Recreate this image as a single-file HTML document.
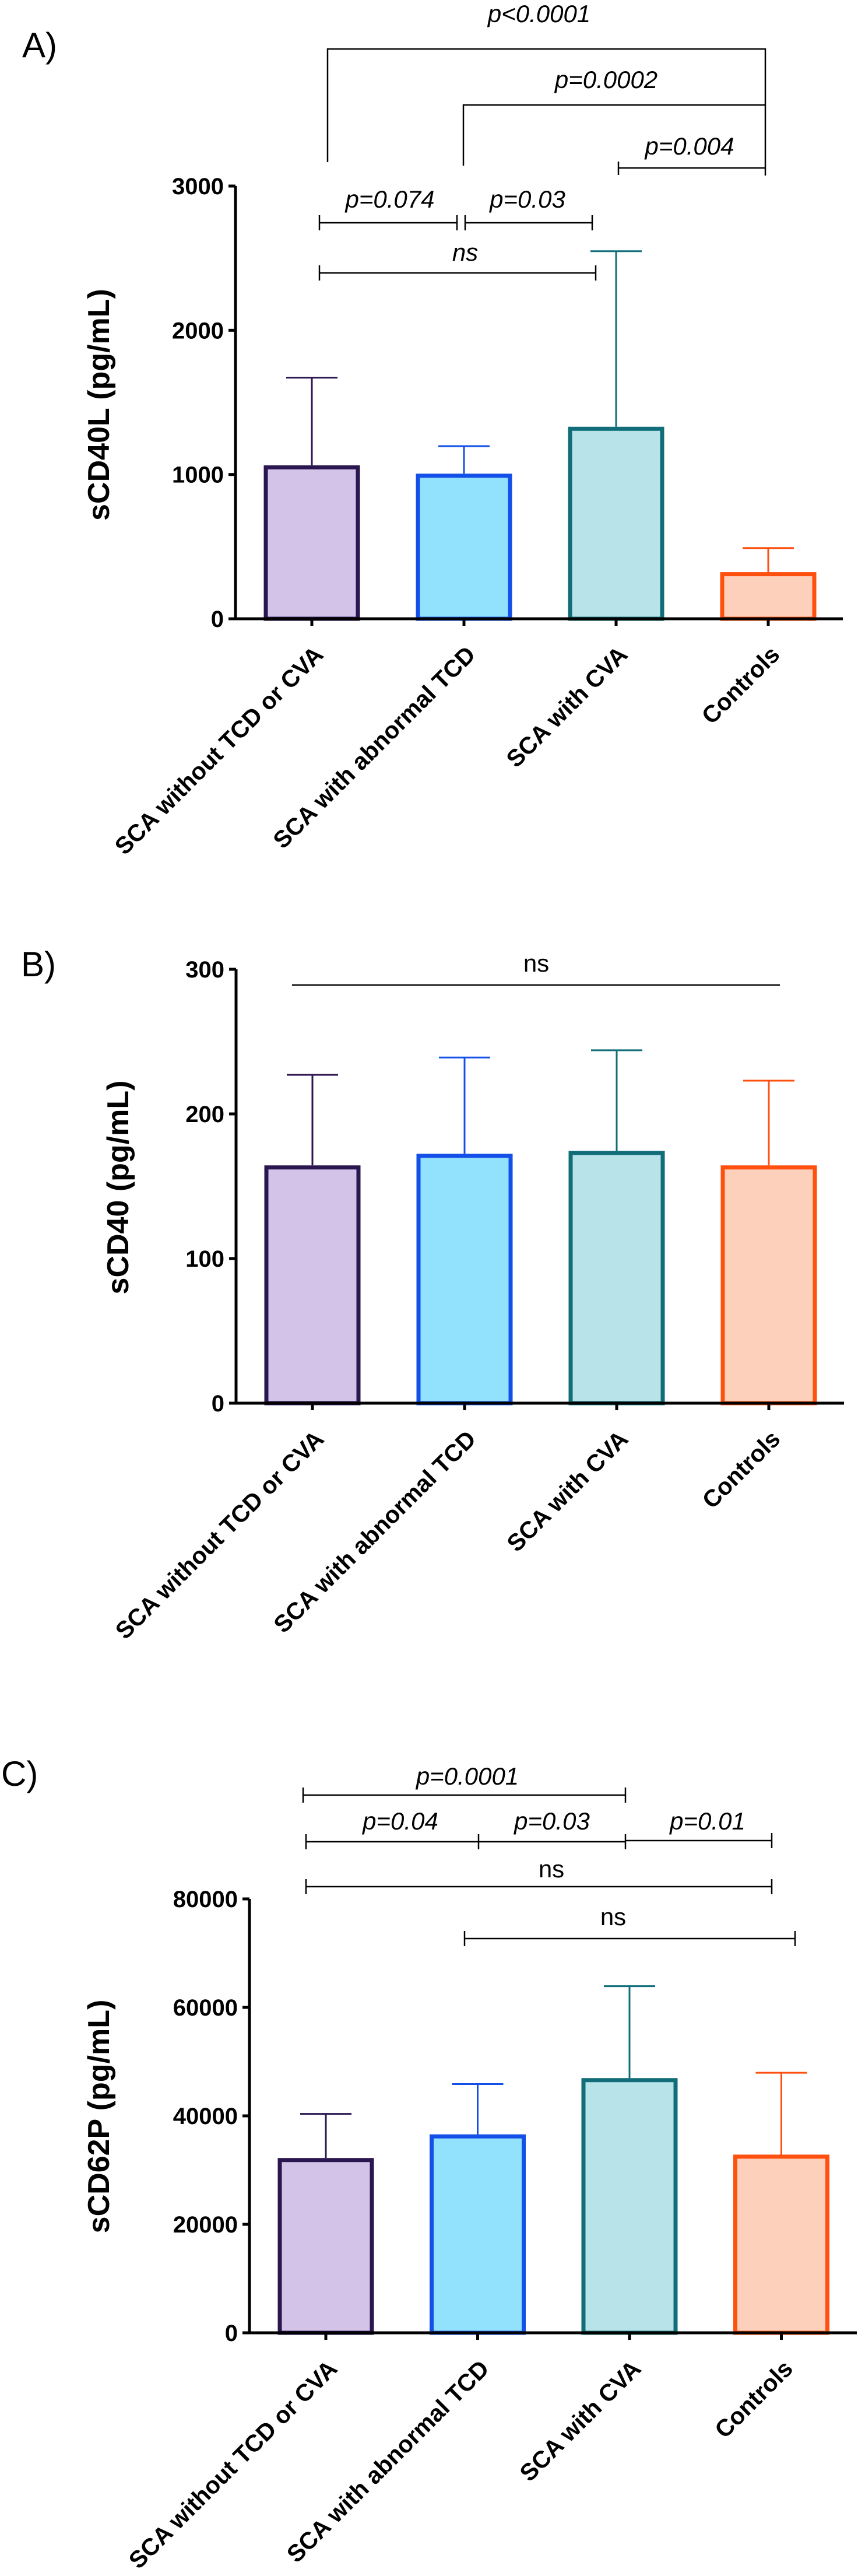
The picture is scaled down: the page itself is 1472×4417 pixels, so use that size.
<!DOCTYPE html>
<html>
<head>
<meta charset="utf-8">
<style>
  html, body { margin: 0; padding: 0; background: #fff; }
  svg { display: block; }
  text { font-family: "Liberation Sans", Arial, sans-serif; }
</style>
</head>
<body>
<svg id="fig" width="1472" height="4417" viewBox="0 0 1472 4417" xmlns="http://www.w3.org/2000/svg">
  <rect x="0" y="0" width="1472" height="4417" fill="#fff"/>

  <!-- Panel labels -->
  <text x="38" y="98" font-size="60">A)</text>
  <text x="36" y="1674" font-size="60">B)</text>
  <text x="2" y="3062" font-size="60">C)</text>

  <!-- Panel A annotations -->
  <g stroke="#000" stroke-width="2.5" fill="none">
    <polyline points="562,278 562,84 1313,84 1313,301"/>
    <polyline points="795,284 795,180 1313,180"/>
    <line x1="1061" y1="288" x2="1313" y2="288"/>
    <line x1="1061" y1="277" x2="1061" y2="300"/>
    <line x1="548" y1="382" x2="784" y2="382"/>
    <line x1="548" y1="369" x2="548" y2="395"/>
    <line x1="784" y1="369" x2="784" y2="395"/>
    <line x1="798" y1="382" x2="1016" y2="382"/>
    <line x1="798" y1="369" x2="798" y2="395"/>
    <line x1="1016" y1="369" x2="1016" y2="395"/>
    <line x1="548" y1="468" x2="1022" y2="468"/>
    <line x1="548" y1="455" x2="548" y2="481"/>
    <line x1="1022" y1="455" x2="1022" y2="481"/>
  </g>
  <g font-style="italic" font-size="42" text-anchor="middle" fill="#000">
    <text x="925" y="38">p&lt;0.0001</text>
    <text x="1040" y="151">p=0.0002</text>
    <text x="1183" y="265">p=0.004</text>
    <text x="669" y="356">p=0.074</text>
    <text x="905" y="356">p=0.03</text>
    <text x="798" y="447">ns</text>
  </g>

  <!-- Panel B annotation -->
  <line x1="501" y1="1689" x2="1338" y2="1689" stroke="#000" stroke-width="2.5"/>
  <text x="920" y="1666" font-size="42" text-anchor="middle">ns</text>

  <!-- Panel C annotations -->
  <g stroke="#000" stroke-width="2.5" fill="none">
    <line x1="520" y1="3078" x2="1073" y2="3078"/>
    <line x1="520" y1="3065" x2="520" y2="3091"/>
    <line x1="1073" y1="3065" x2="1073" y2="3091"/>
    <line x1="525" y1="3158" x2="1073" y2="3158"/>
    <line x1="525" y1="3145" x2="525" y2="3171"/>
    <line x1="821" y1="3145" x2="821" y2="3171"/>
    <line x1="1073" y1="3156" x2="1324" y2="3156"/>
    <line x1="1073" y1="3145" x2="1073" y2="3171"/>
    <line x1="1324" y1="3143" x2="1324" y2="3169"/>
    <line x1="525" y1="3235" x2="1324" y2="3235"/>
    <line x1="525" y1="3222" x2="525" y2="3248"/>
    <line x1="1324" y1="3222" x2="1324" y2="3248"/>
    <line x1="797" y1="3324" x2="1364" y2="3324"/>
    <line x1="797" y1="3311" x2="797" y2="3337"/>
    <line x1="1364" y1="3311" x2="1364" y2="3337"/>
  </g>
  <g font-size="42" text-anchor="middle" fill="#000">
    <text x="802" y="3060" font-style="italic">p=0.0001</text>
    <text x="687" y="3137" font-style="italic">p=0.04</text>
    <text x="947" y="3137" font-style="italic">p=0.03</text>
    <text x="1214" y="3137" font-style="italic">p=0.01</text>
    <text x="946" y="3219">ns</text>
    <text x="1052" y="3301">ns</text>
  </g>
</svg>
<script>
const categories = ["SCA without TCD or CVA", "SCA with abnormal TCD", "SCA with CVA", "Controls"];
const sCD40LMeans = [1050, 992, 1317, 309];
const sCD40LErrTops = [1672, 1197, 2548, 490];
const sCD40LTicks = [0, 1000, 2000, 3000];
const sCD40Means = [163, 171, 173, 163];
const sCD40ErrTops = [227, 239, 244, 223];
const sCD40Ticks = [0, 100, 200, 300];
const sCD62PMeans = [31855, 36213, 46588, 32477];
const sCD62PErrTops = [40363, 45862, 63917, 47938];
const sCD62PTicks = [0, 20000, 40000, 60000, 80000];

const fills = ["#d3c3e8", "#92e2fd", "#b8e3e8", "#fdd0bc"];
const strokes = ["#2b1650", "#1450e8", "#116e78", "#ff5010"];
const NS = "http://www.w3.org/2000/svg";
const svg = document.getElementById("fig");

function mk(tag, attrs, parent) {
  const e = document.createElementNS(NS, tag);
  for (const k in attrs) e.setAttribute(k, attrs[k]);
  parent.appendChild(e);
  return e;
}

function panel(p, means, errs, ticks, title) {
  const g = mk("g", {}, svg);
  
  
  const yMax = ticks[ticks.length - 1];
  const y = v => p.y0 - (v / yMax) * (p.y0 - p.yTop);
  const x = i => p.c0 + i * p.step;
  const bw = 165;
  // bars
  means.forEach((m, i) => {
    const r = mk("rect", {x: x(i) - bw / 2 + 3.5, y: y(m), width: bw - 7, height: p.y0 - y(m),
      fill: fills[i], stroke: strokes[i], "stroke-width": 7}, g);
    
    
    const e = mk("path", {d: `M${x(i)},${y(m) - 3.5}V${y(errs[i])}M${x(i) - 44},${y(errs[i])}H${x(i) + 44}`,
      stroke: strokes[i], "stroke-width": 3, fill: "none"}, g);
    
    
  });
  // axes
  const ax = mk("path", {d: `M${p.ax},${p.yTop}V${p.y0}M${p.ax - 8},${p.y0}H${p.axEnd}`,
    stroke: "#000", "stroke-width": 5, fill: "none"}, g);
  
  
  ticks.forEach(t => {
    const tk = mk("line", {x1: p.ax - 12, x2: p.ax, y1: y(t), y2: y(t), stroke: "#000", "stroke-width": 5}, g);
    
    
    const tl = mk("text", {x: p.ax - 20, y: y(t) + 14, "text-anchor": "end", "font-size": 40, "font-weight": "bold"}, g);
    tl.textContent = t;
    
    
  });
  categories.forEach((c, i) => {
    const tk = mk("line", {x1: x(i), x2: x(i), y1: p.y0, y2: p.y0 + 12, stroke: "#000", "stroke-width": 5}, g);
    
    
    const ax0 = x(i) + 22, ay0 = p.y0 + 64;
    const tl = mk("text", {x: ax0, y: ay0, "text-anchor": "end", "font-size": 41, "font-weight": "bold",
      transform: `rotate(-45 ${ax0} ${ay0})`}, g);
    tl.textContent = c;
    
    
  });
  const tt = mk("text", {x: p.tx, y: p.ty, "text-anchor": "middle", "font-size": 52, "font-weight": "bold",
    transform: `rotate(-90 ${p.tx} ${p.ty})`}, g);
  tt.textContent = title;
  
  
}

panel({id: "a", ax: 404, axEnd: 1446, yTop: 319, y0: 1061, c0: 535, step: 261, tx: 187, ty: 694},
  sCD40LMeans, sCD40LErrTops, sCD40LTicks, "sCD40L (pg/mL)");
panel({id: "b", ax: 405, axEnd: 1448, yTop: 1662, y0: 2406, c0: 536, step: 261, tx: 220, ty: 2036},
  sCD40Means, sCD40ErrTops, sCD40Ticks, "sCD40 (pg/mL)");
panel({id: "c", ax: 428, axEnd: 1470, yTop: 3256, y0: 4000, c0: 559, step: 260.5, tx: 187, ty: 3629},
  sCD62PMeans, sCD62PErrTops, sCD62PTicks, "sCD62P (pg/mL)");
</script>
</body>
</html>
